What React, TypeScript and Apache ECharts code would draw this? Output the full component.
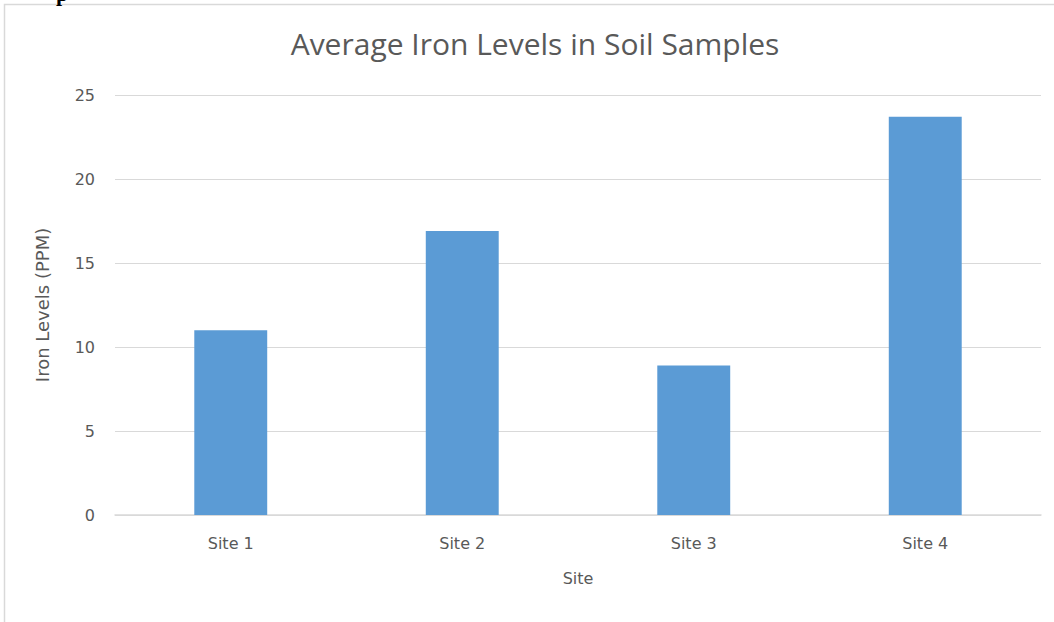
import React, { useEffect, useRef } from "react";
import * as echarts from "echarts";

const categories = ["Site 1", "Site 2", "Site 3", "Site 4"];
const ironLevels = [11, 16.9, 8.9, 23.7];
const yTicks = [0, 5, 10, 15, 20, 25];

export default function App() {
  const ref = useRef<HTMLDivElement>(null);
  useEffect(() => {
    const chart = echarts.init(ref.current!, null, { renderer: "svg" });
    const titleFont = "Open Sans";
    const font = "DejaVu Sans";
    chart.setOption({
      animation: false,
      backgroundColor: "#ffffff",
      title: {
        text: "Average Iron Levels in Soil Samples",
        left: 530,
        top: 23,
        textAlign: "center",
        textStyle: { fontFamily: titleFont, fontSize: 30, fontWeight: "normal", color: "#595959" },
      },
      graphic: [
        {
          type: "rect",
          shape: { x: 4.5, y: 4.5, width: 1060, height: 640 },
          style: { fill: "none", stroke: "#d9d9d9", lineWidth: 1.5 },
          silent: true,
        },
        {
          type: "text",
          x: 56,
          y: -18,
          style: { text: "p", font: "bold 22px 'Liberation Serif'", fill: "#000" },
          silent: true,
        },
      ],
      grid: { left: 115, right: 13, top: 95, bottom: 107, containLabel: false },
      xAxis: {
        type: "category",
        data: categories,
        name: "Site",
        nameLocation: "middle",
        nameGap: 55,
        nameTextStyle: { fontFamily: font, fontSize: 16, color: "#595959" },
        axisLine: { lineStyle: { color: "#d9d9d9", width: 1.5 } },
        axisTick: { show: false },
        axisLabel: { fontFamily: font, fontSize: 16, color: "#595959", margin: 20 },
      },
      yAxis: {
        type: "value",
        min: yTicks[0],
        max: yTicks[yTicks.length - 1],
        interval: 5,
        name: "Iron Levels (PPM)",
        nameLocation: "middle",
        nameGap: 64,
        nameRotate: 90,
        nameTextStyle: { fontFamily: font, fontSize: 18, color: "#595959" },
        axisLine: { show: false },
        axisTick: { show: false },
        axisLabel: { fontFamily: font, fontSize: 16, color: "#595959", margin: 20 },
        splitLine: { lineStyle: { color: "#d9d9d9", width: 1 } },
      },
      series: [
        {
          type: "bar",
          data: ironLevels,
          barWidth: "31.5%",
          itemStyle: { color: "#5b9bd5" },
        },
      ],
    });
    return () => chart.dispose();
  }, []);
  return (
    <div
      ref={ref}
      style={{ position: "fixed", left: 0, top: 0, width: 1054, height: 622 }}
    />
  );
}
